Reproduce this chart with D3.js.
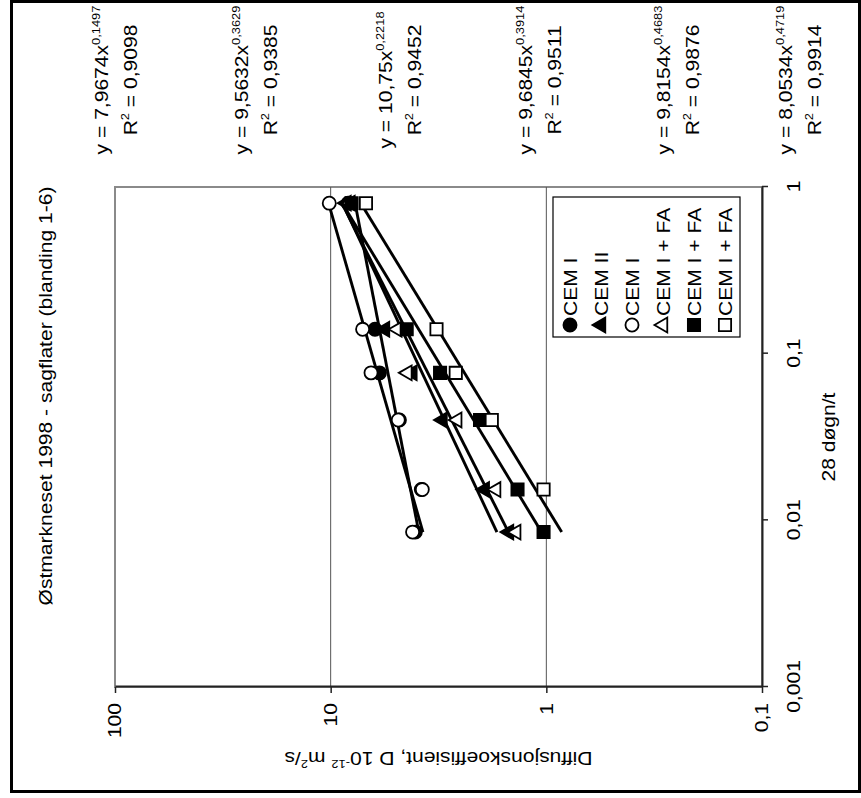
<!DOCTYPE html>
<html>
<head>
<meta charset="utf-8">
<script src="https://cdn.jsdelivr.net/npm/d3@7"></script>
<style>
  html, body { margin: 0; padding: 0; background: #fff; }
  svg { display: block; }
  text { font-family: Arial, "Liberation Sans", sans-serif; fill: #000; white-space: pre; }
</style>
</head>
<body>
<script>
// x: 28 døgn / t (age ratio), shared by all mixes
const ageRatio = [0.8, 0.14, 0.0767, 0.04, 0.0153, 0.0085];

// Diffusion coefficient D (10^-12 m2/s) per mix
const dCemIFilled     = [8.3, 6.23, 5.94, 4.8, 3.8, 4.05];
const dCemII          = [8.45, 5.60, 4.18, 3.03, 1.93, 1.49];
const dCemIOpen       = [10.15, 7.11, 6.50, 4.86, 3.76, 4.17];
const dFaTriangle     = [8.1, 4.91, 4.41, 2.59, 1.71, 1.38];
const dFaFilledSquare = [8.0, 4.44, 3.11, 2.03, 1.36, 1.03];
const dFaOpenSquare   = [6.86, 3.23, 2.63, 1.79, 1.03, null];

const seriesLabels  = ["CEM I", "CEM II", "CEM I", "CEM I + FA", "CEM I + FA", "CEM I + FA"];
const seriesSymbols = ["circle", "triangle", "circle", "triangle", "square", "square"];
const seriesFilled  = [true, true, false, false, true, false];

// Power trendlines y = a * x^b
const trendA  = [7.9674, 9.5632, 10.75, 9.6845, 9.8154, 8.0534];
const trendB  = [0.1497, 0.3629, 0.2218, 0.3914, 0.4683, 0.4719];
const trendR2 = [0.9098, 0.9385, 0.9452, 0.9511, 0.9876, 0.9914];
const trendRange = [0.0085, 0.8];

const xTicks = [0.001, 0.01, 0.1, 1];
const yTicks = [0.1, 1, 10, 100];
const yGrid  = [1, 10];

const titleText = "Østmarkneset 1998 - sagflater (blanding 1-6)";
const xTitle = "28 døgn/t";

// ---- layout (chart is built upright, then turned a quarter turn) ----
const PAGE_W = 861, PAGE_H = 798;
const plot = { left: 111, right: 611, top: 115, bottom: 762 };
const FS = 18, SX = 1.17;               // font size, horizontal glyph stretch

const comma = v => String(v).replace(".", ",");

const svg = d3.select("body").append("svg")
  .attr("width", PAGE_W).attr("height", PAGE_H);

const root = svg.append("g")
  .attr("transform", `translate(0,${PAGE_H}) rotate(-90)`);

// chart border
root.append("rect")
  .attr("x", 6.5).attr("y", 11.5).attr("width", 790).attr("height", 848)
  .attr("fill", "#fff").attr("stroke", "#000").attr("stroke-width", 3);

const x = d3.scaleLog().domain([0.001, 1]).range([plot.left, plot.right]);
const y = d3.scaleLog().domain([0.1, 100]).range([plot.bottom, plot.top]);

function addText(parent, px, py, opts = {}) {
  const g = parent.append("g")
    .attr("transform", `translate(${px},${py}) rotate(${opts.rotate || 0})`);
  return g.append("text")
    .attr("transform", `scale(${SX},1)`)
    .attr("font-size", opts.size || FS)
    .attr("text-anchor", opts.anchor || "start");
}

// plot area frame
root.append("rect")
  .attr("x", plot.left).attr("y", plot.top)
  .attr("width", plot.right - plot.left).attr("height", plot.bottom - plot.top)
  .attr("fill", "none").attr("stroke", "#8a8a8a").attr("stroke-width", 2);

// horizontal gridlines
root.append("g").selectAll("line").data(yGrid).join("line")
  .attr("x1", plot.left).attr("x2", plot.right)
  .attr("y1", d => y(d)).attr("y2", d => y(d))
  .attr("stroke", "#555").attr("stroke-width", 1);

// axes
const xAxis = root.append("g")
  .attr("transform", `translate(0,${plot.bottom})`)
  .call(d3.axisBottom(x).tickValues(xTicks).tickFormat(comma)
        .tickSize(6).tickSizeOuter(0).tickPadding(19));
const yAxis = root.append("g")
  .attr("transform", `translate(${plot.left},0)`)
  .call(d3.axisLeft(y).tickValues(yTicks).tickFormat(comma)
        .tickSize(6).tickSizeOuter(0));

[xAxis, yAxis].forEach(a => {
  a.select(".domain").attr("stroke", "#222").attr("stroke-width", 2);
  a.selectAll(".tick line").attr("stroke", "#222").attr("stroke-width", 1.5);
  a.selectAll(".tick text").attr("font-size", FS)
    .attr("font-family", "Arial, 'Liberation Sans', sans-serif").attr("fill", "#000");
});
xAxis.selectAll(".tick text").attr("transform", `scale(${SX},1)`);
yAxis.selectAll(".tick text").attr("x", null)
  .attr("transform", `translate(-16,0) scale(${SX},1)`);

// trendlines
const series = [dCemIFilled, dCemII, dCemIOpen, dFaTriangle, dFaFilledSquare, dFaOpenSquare]
  .map((vals, i) => ({
    i,
    pts: ageRatio.map((r, j) => ({ r, d: vals[j] })).filter(p => p.d != null)
  }));

const line = d3.line().x(p => x(p[0])).y(p => y(p[1]));
root.append("g").selectAll("path").data(trendA).join("path")
  .attr("d", (a, i) => line(trendRange.map(r => [r, a * Math.pow(r, trendB[i])])))
  .attr("fill", "none").attr("stroke", "#000").attr("stroke-width", 2.9);

// markers
const symType = { circle: d3.symbolCircle, triangle: d3.symbolTriangle, square: d3.symbolSquare };
const symSize = { circle: 135, triangle: 95, square: 150 };
const symbolPath = i => d3.symbol(symType[seriesSymbols[i]], symSize[seriesSymbols[i]])();

series.forEach(s => {
  root.append("g").selectAll("path").data(s.pts).join("path")
    .attr("d", symbolPath(s.i))
    .attr("transform", p => `translate(${x(p.r)},${y(p.d)})`)
    .attr("fill", seriesFilled[s.i] ? "#000" : "#fff")
    .attr("stroke", "#000").attr("stroke-width", 1.8);
});

// legend
const legend = root.append("g");
legend.append("rect")
  .attr("x", 461).attr("y", 553).attr("width", 140).attr("height", 187)
  .attr("fill", "#fff").attr("stroke", "#000").attr("stroke-width", 1.2);
seriesLabels.forEach((lab, i) => {
  const cy = 570 + i * 31;
  legend.append("path")
    .attr("d", symbolPath(i))
    .attr("transform", `translate(473,${cy})`)
    .attr("fill", seriesFilled[i] ? "#000" : "#fff")
    .attr("stroke", "#000").attr("stroke-width", 1.8);
  addText(legend, 482, cy + 6.5).text(lab);
});

// trendline equations
const eqBase = [108, 248, 392, 532, 670, 792];
trendA.forEach((a, i) => {
  const t1 = addText(root, 718, eqBase[i], { anchor: "middle" });
  t1.append("tspan").text(`y = ${comma(a)}x`);
  t1.append("tspan").attr("font-size", 11).attr("dy", -8).text(comma(trendB[i]));
  const t2 = addText(root, 718, eqBase[i] + 29, { anchor: "middle" });
  t2.append("tspan").text("R");
  t2.append("tspan").attr("font-size", 11).attr("dy", -8).text("2");
  t2.append("tspan").attr("dy", 8).text(` = ${comma(trendR2[i])}`);
});

// titles
addText(root, 402, 52, { anchor: "middle" }).text(titleText);
addText(root, (plot.left + plot.right) / 2, 835, { anchor: "middle" }).text(xTitle);

const yt = addText(root, 46, (plot.top + plot.bottom) / 2, { anchor: "middle", rotate: -90 });
yt.append("tspan").text("Diffusjonskoeffisient, D 10");
yt.append("tspan").attr("font-size", 11).attr("dy", -8).text("-12");
yt.append("tspan").attr("dy", 8).text(" m");
yt.append("tspan").attr("font-size", 11).attr("dy", -8).text("2");
yt.append("tspan").attr("dy", 8).text("/s");
</script>
</body>
</html>
